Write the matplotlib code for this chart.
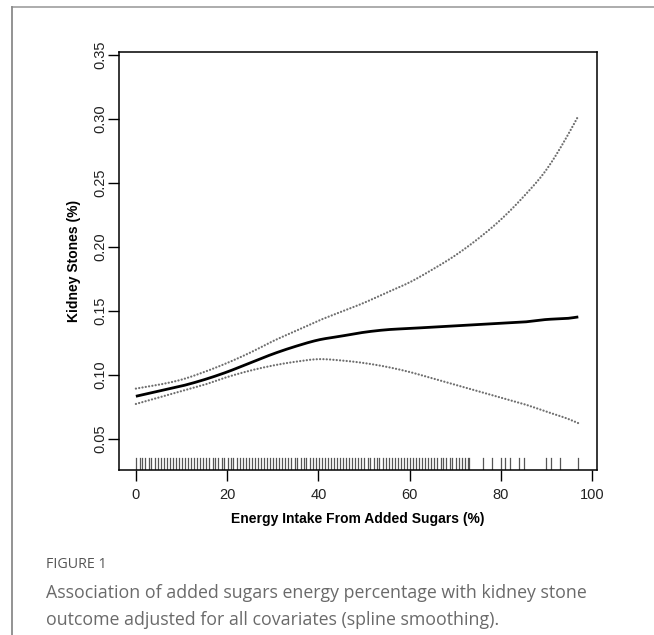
import matplotlib
matplotlib.use("Agg")
import matplotlib.pyplot as plt
import matplotlib.transforms as mtransforms
import numpy as np

# ---- data ----
x_vals = [0, 5, 10, 15, 20, 25, 30, 35, 40, 45, 50, 55, 60, 65, 70, 75, 80, 85, 90, 95, 97]
fit = [0.083, 0.087, 0.091, 0.096, 0.102, 0.109, 0.116, 0.122, 0.127, 0.130, 0.133,
       0.135, 0.136, 0.137, 0.138, 0.139, 0.140, 0.141, 0.143, 0.144, 0.145]
upper = [0.089, 0.092, 0.096, 0.102, 0.109, 0.117, 0.126, 0.134, 0.142, 0.149, 0.156,
         0.164, 0.172, 0.182, 0.193, 0.206, 0.221, 0.239, 0.260, 0.289, 0.302]
lower = [0.077, 0.082, 0.087, 0.092, 0.098, 0.103, 0.107, 0.110, 0.112, 0.111, 0.109,
         0.106, 0.102, 0.097, 0.092, 0.087, 0.082, 0.077, 0.071, 0.065, 0.062]
rug = [0.1, 0.8, 1.4, 2.1, 2.8, 3.4, 4.1, 4.8, 5.4, 6.1, 6.8, 7.4, 8.1, 8.8, 9.4,
       10.1, 10.8, 11.4, 12.1, 12.8, 13.4, 14.1, 14.8, 15.4, 16.1, 16.8, 17.4, 18.1,
       18.8, 19.4, 20.1, 20.8, 21.4, 22.1, 22.8, 23.4, 24.1, 24.8, 25.4, 26.1, 26.8,
       27.4, 28.1, 28.8, 29.4, 30.1, 30.8, 31.4, 32.1, 32.8, 33.4, 34.1, 34.8, 35.4,
       36.1, 36.8, 37.4, 38.1, 38.8, 39.4, 40.1, 40.8, 41.4, 42.1, 42.8, 43.4, 44.1,
       44.8, 45.4, 46.1, 46.8, 47.4, 48.1, 48.8, 49.4, 50.1, 50.8, 51.4, 52.1, 52.8,
       53.4, 54.1, 54.8, 55.4, 56.1, 56.8, 57.4, 58.1, 58.8, 59.4, 60.1, 60.8, 61.4,
       62.1, 62.8, 63.4, 64.1, 64.8, 65.4, 66.1, 66.8, 67.4, 68.1, 68.8, 69.4, 70.1,
       70.8, 71.4, 72.1, 72.8, 73.1,
       76, 78, 80, 81, 82, 84, 85, 90, 91, 93, 97]
x_ticks = [0, 20, 40, 60, 80, 100]
y_ticks = [0.05, 0.10, 0.15, 0.20, 0.25, 0.30, 0.35]
y_tick_labels = ["0.05", "0.10", "0.15", "0.20", "0.25", "0.30", "0.35"]


def smooth(xk, yk, n=400):
    """Cubic Hermite curve through the read points."""
    xk = np.asarray(xk, float)
    yk = np.asarray(yk, float)
    m = np.gradient(yk, xk)
    xs = np.linspace(xk[0], xk[-1], n)
    idx = np.clip(np.searchsorted(xk, xs) - 1, 0, len(xk) - 2)
    h = xk[idx + 1] - xk[idx]
    t = (xs - xk[idx]) / h
    h00 = 2 * t**3 - 3 * t**2 + 1
    h10 = t**3 - 2 * t**2 + t
    h01 = -2 * t**3 + 3 * t**2
    h11 = t**3 - t**2
    ys = h00 * yk[idx] + h10 * h * m[idx] + h01 * yk[idx + 1] + h11 * h * m[idx + 1]
    return xs, ys


W, H = 654, 635
fig = plt.figure(figsize=(W / 100, H / 100), dpi=100)
fig.patch.set_facecolor("white")

# outer frame lines (top and left) of the figure panel
fig.add_artist(plt.Line2D([12 / W, 1], [1 - 6.5 / H, 1 - 6.5 / H], color="#a6a6a6", lw=1.3))
fig.add_artist(plt.Line2D([12 / W, 12 / W], [0, 1 - 6.5 / H], color="#8a8a8a", lw=1.3))

ax = fig.add_axes([119 / W, 1 - 470 / H, (597 - 119) / W, (470 - 52) / H])

dot = dict(color="#6f6f6f", lw=1.6, linestyle=(0, (0.05, 1.45)), dash_capstyle="round")
ax.plot(*smooth(x_vals, upper), **dot)
ax.plot(*smooth(x_vals, lower), **dot)
ax.plot(*smooth(x_vals, fit), color="black", lw=2.0, solid_capstyle="butt")

trans = mtransforms.blended_transform_factory(ax.transData, ax.transAxes)
for r in rug:
    ax.plot([r, r], [0, 12.5 / 418], color="#555555", lw=0.9, transform=trans)

ax.set_xlim(-3.7, 101.1)
ax.set_ylim(0.0254, 0.352)

for s in ax.spines.values():
    s.set_linewidth(1.1)
    s.set_color("black")

ax.set_xticks(x_ticks)
ax.set_yticks(y_ticks)
ax.set_yticklabels(y_tick_labels, rotation=90, va="center")
ax.tick_params(axis="both", direction="out", length=8, width=1.0, labelsize=10.5,
               colors="black")
ax.tick_params(axis="x", pad=5)
ax.tick_params(axis="y", pad=0.5)
for lab in ax.get_xticklabels() + ax.get_yticklabels():
    lab.set_family("Liberation Sans")
    lab.set_color("#222222")

ax.set_xlabel("Energy Intake From Added Sugars (%)", fontsize=10, fontweight="bold",
              family="Liberation Sans", labelpad=7)
ax.set_ylabel("Kidney Stones (%)", fontsize=10, fontweight="bold",
              family="Liberation Sans", labelpad=9)

fig.text(46 / W, 1 - 564 / H, "FIGURE 1", fontsize=10.3, color="#555555",
         family="Open Sans", va="center", ha="left")
fig.text(46 / W, 1 - 593 / H,
         "Association of added sugars energy percentage with kidney stone",
         fontsize=12.8, color="#6a6a6a", family="Open Sans", va="center", ha="left")
fig.text(46 / W, 1 - 620 / H,
         "outcome adjusted for all covariates (spline smoothing).",
         fontsize=12.8, color="#6a6a6a", family="Open Sans", va="center", ha="left")

fig.savefig("out.png", dpi=100)
